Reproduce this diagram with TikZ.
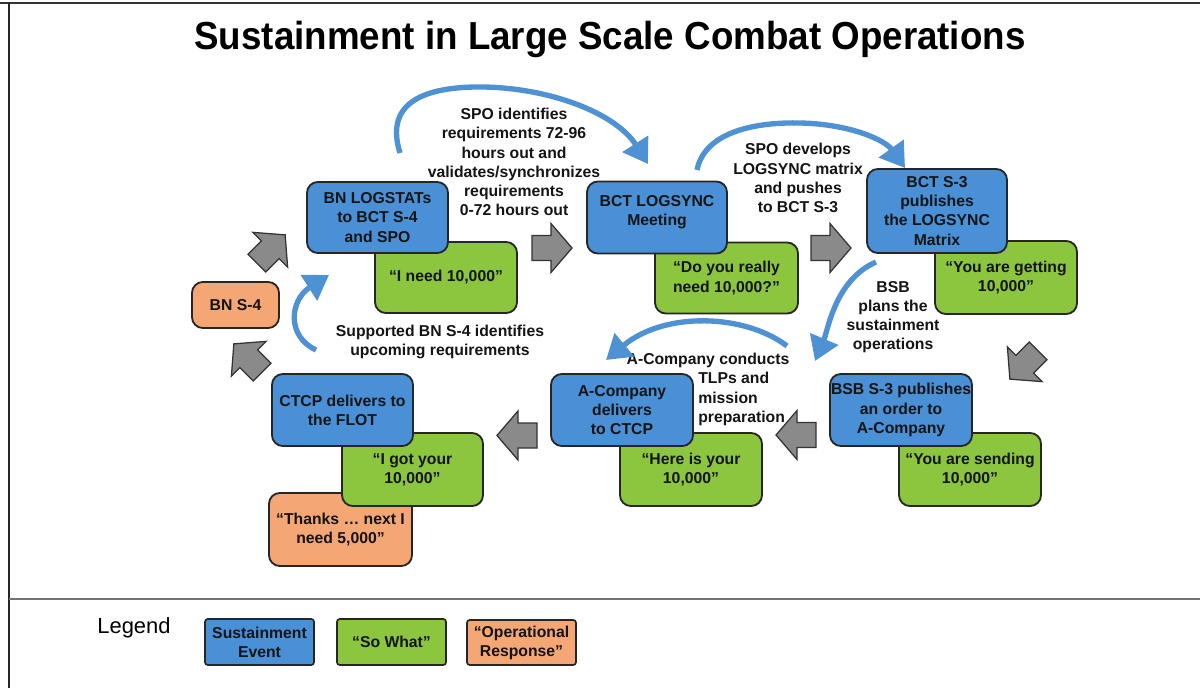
\documentclass[tikz,border=0pt]{standalone}
\usepackage{fontspec}
\setmainfont{Liberation Sans}
\usetikzlibrary{arrows.meta}

\definecolor{evblue}{RGB}{74,144,214}
\definecolor{sowhatgreen}{RGB}{140,198,63}
\definecolor{oporange}{RGB}{244,166,116}
\definecolor{flowblue}{RGB}{78,146,212}
\definecolor{stepgray}{RGB}{138,138,138}

\newcommand\boxfont{\fontsize{11.2}{13.6}\selectfont\bfseries}
\newcommand\titlefont{\fontsize{27.8}{30}\selectfont\bfseries}

\tikzset{
  card/.style={draw=black!85, line width=1.3pt, rounded corners=0.27cm,
    align=center, inner sep=0pt, font=\boxfont, text=black!92},
  dims/.style 2 args={minimum width=#1*0.025cm, minimum height=#2*0.025cm},
  eventbox/.style={card, fill=evblue},
  sowhatbox/.style={card, fill=sowhatgreen},
  responsebox/.style={card, fill=oporange},
  keybox/.style={card, rounded corners=0.07cm, line width=1.2pt},
  note/.style={align=center, inner sep=0pt, font=\boxfont, text=black!92},
  flow/.style={draw=flowblue, line width=3.8pt,
    -{Triangle[length=17pt, width=21pt]}},
  pics/stepper/.style={code={
    \path[draw=black!80, fill=stepgray, line width=0.9pt, line join=miter]
      (-20,-12.5) -- (-1,-12.5) -- (-1,-24.5) -- (20,0) -- (-1,24.5)
      -- (-1,12.5) -- (-20,12.5) -- cycle;}}
}

\begin{document}
\begin{tikzpicture}[x=0.025cm, y=-0.025cm]
\useasboundingbox (0,0) rectangle (1200,688);

% frame and legend separator
\draw[line width=2pt, black!80] (0,3) -- (1200,3);
\draw[line width=1.5pt, black!85] (9,3) -- (9,688);
\draw[line width=2pt, black!55] (9,599) -- (1200,599);

% title
\node[font=\titlefont, anchor=base, inner sep=0pt] (title) at (610,50)
  {\scalebox{0.94}[1]{Sustainment in Large Scale Combat Operations}};

% free labels
\node[note] (spoid) at (514,162) {SPO identifies\\requirements 72-96\\hours out and\\validates/synchronizes\\requirements\\0-72 hours out};
\node[note] (spodev) at (798,178) {SPO develops\\LOGSYNC matrix\\and pushes\\to BCT S-3};
\node[note] (bsbplan) at (893,317) {BSB\\plans the\\sustainment\\operations};
\node[note] (acoconducts) at (708,360) {A-Company conducts};
\node[note, align=left, anchor=west] (acotlp) at (698,399) {TLPs and\\mission\\preparation};
\node[note] (supported) at (440,342) {Supported BN S-4 identifies\\upcoming requirements};

% curved flow connectors
\coordinate (c1s) at (400,153);  \coordinate (c1e) at (648,164);
\coordinate (c2s) at (697,170);  \coordinate (c2e) at (905,168);
\coordinate (c3s) at (876,262);  \coordinate (c3e) at (815,361);
\coordinate (c4s) at (787,346);  \coordinate (c4e) at (606,360);
\coordinate (c5s) at (316,350);  \coordinate (c5e) at (329,275);
\draw[flow] (c1s) .. controls (385,105) and (420,88) .. (475,87)
  .. controls (545,86) and (615,112) .. (c1e);
\draw[flow] (c2s) .. controls (705,130) and (760,122) .. (800,123)
  .. controls (850,124) and (885,140) .. (c2e);
\draw[flow] (c3s) .. controls (835,280) and (828,330) .. (c3e);
\draw[flow] (c4s) .. controls (745,314) and (665,311) .. (c4e);
\draw[flow] (c5s) .. controls (286,336) and (290,300) .. (c5e);

% block arrows between steps
\pic at (552,248) {stepper};
\pic at (831,248) {stepper};
\pic[rotate=225] at (1024,365) {stepper};
\pic[rotate=180] at (796,435) {stepper};
\pic[rotate=180] at (517,435.5) {stepper};
\pic[rotate=135] at (248,358) {stepper};
\pic[rotate=45] at (271,249) {stepper};

% operational responses
\node[responsebox, dims={87}{46}] (bns4) at (235.5,305) {BN S-4};
\node[responsebox, dims={143}{73}] (thanks) at (340.5,529.5) {``Thanks \dots\ next I\\need 5,000''};

% so-what boxes
\node[sowhatbox, dims={142}{71}] (need) at (446,277.5) {``I need 10,000''};
\node[sowhatbox, dims={143}{71}] (really) at (726.5,278) {``Do you really\\need 10,000?''};
\node[sowhatbox, dims={142}{73}] (getting) at (1006,277.5) {``You are getting\\10,000''};
\node[sowhatbox, dims={142}{73}] (sending) at (970,469.5) {``You are sending\\10,000''};
\node[sowhatbox, dims={142}{73}] (hereis) at (691,469.5) {``Here is your\\10,000''};
\node[sowhatbox, dims={141}{73}] (gotyour) at (412.5,469.5) {``I got your\\10,000''};

% sustainment events
\node[eventbox, dims={141}{71}] (logstat) at (377.5,217.5) {BN LOGSTATs\\to BCT S-4\\and SPO};
\node[eventbox, dims={140}{72}] (logsync) at (657,217.5) {BCT LOGSYNC\\Meeting\\[-3.6pt]\mbox{}};
\node[eventbox, dims={140}{84}] (bcts3) at (937,211) {BCT S-3\\publishes\\the LOGSYNC\\Matrix};
\node[eventbox, dims={142}{72}] (bsbs3) at (901,410) {BSB S-3 publishes\\an order to\\A-Company};
\node[eventbox, dims={142}{72}] (acodel) at (622,410) {A-Company\\delivers\\to CTCP};
\node[eventbox, dims={141}{72}] (ctcp) at (342.5,410) {CTCP delivers to\\the FLOT};

% legend
\node[font=\fontsize{15.6}{18}\selectfont, inner sep=0pt] (legend) at (134,628) {Legend};
\node[keybox, fill=evblue, dims={109}{46}] (keyevent) at (259.5,642) {Sustainment\\Event};
\node[keybox, fill=sowhatgreen, dims={109}{46}] (keysowhat) at (391.5,642) {``So What''};
\node[keybox, fill=oporange, dims={109}{45}] (keyresp) at (521.5,642.5) {``Operational\\Response''};
\end{tikzpicture}
\end{document}
